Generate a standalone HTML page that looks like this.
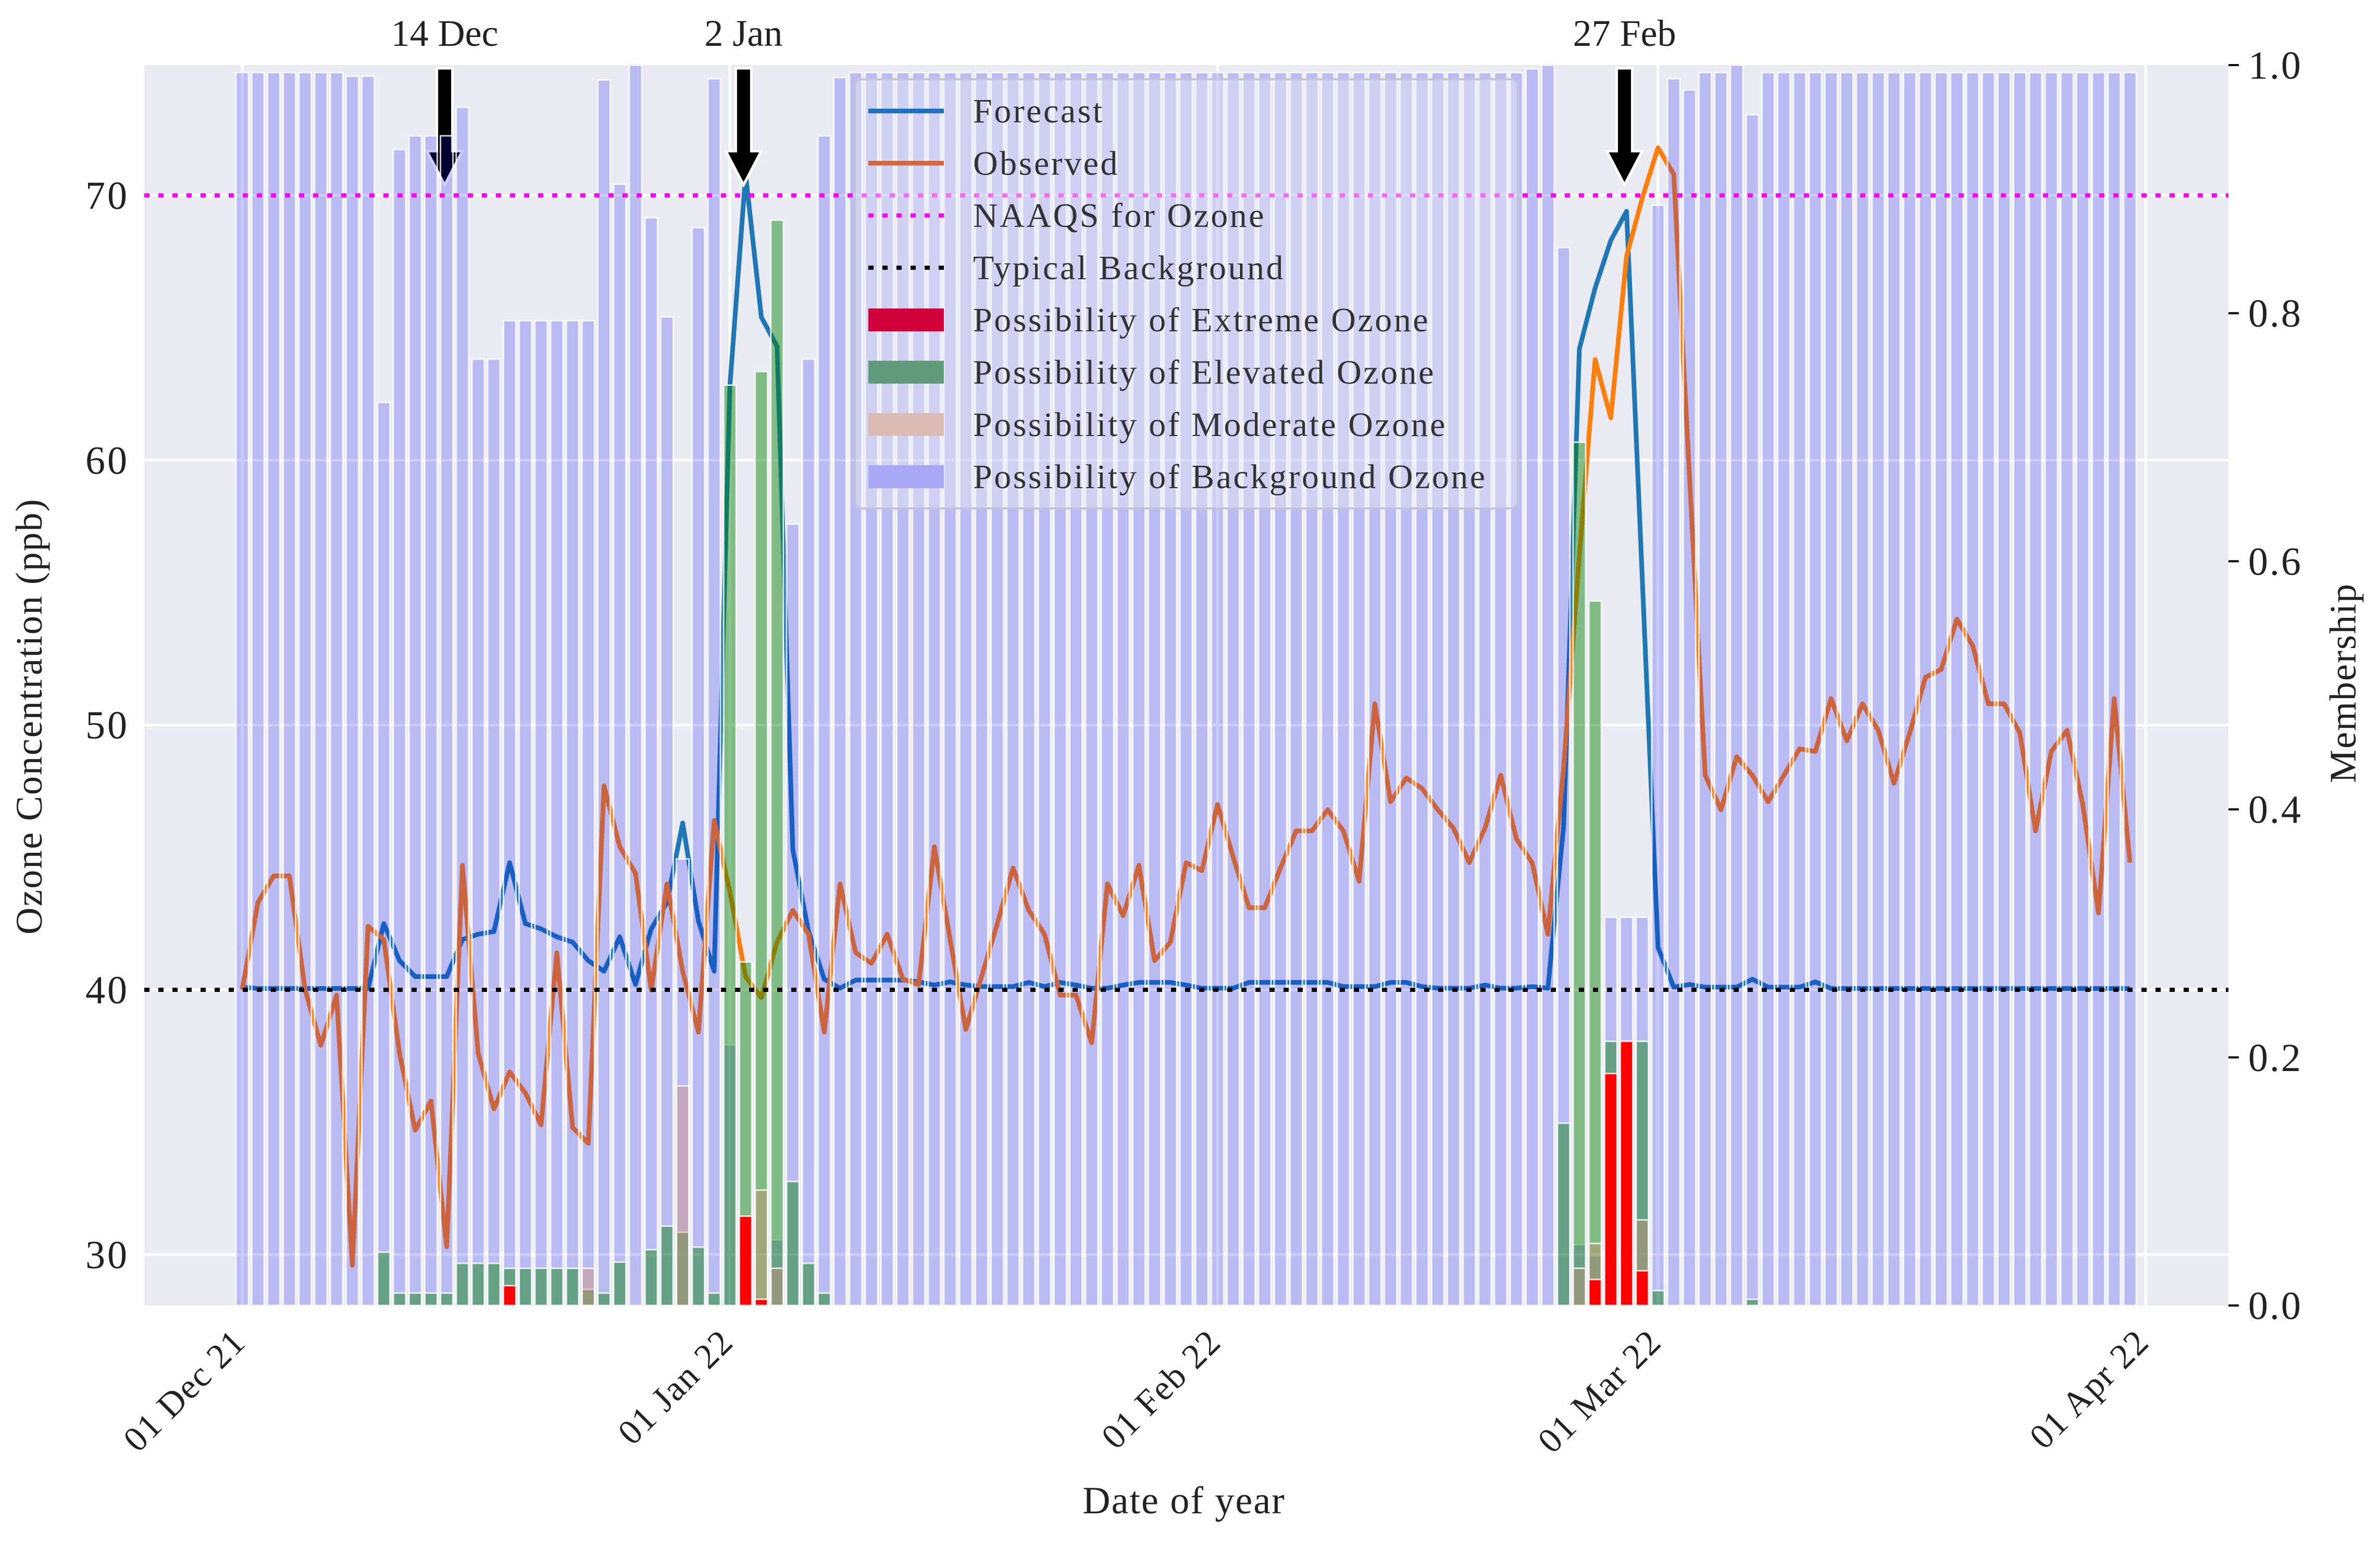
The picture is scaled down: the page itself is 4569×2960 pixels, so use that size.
<!DOCTYPE html>
<html><head><meta charset="utf-8"><style>
html,body{margin:0;padding:0;background:#fff;}
svg text{font-family:"Liberation Serif","DejaVu Serif",serif;}
</style></head><body>
<svg id="chart" xmlns="http://www.w3.org/2000/svg" width="4569" height="2955" viewBox="0 0 4569 2955">
<rect x="277" y="125" width="4001" height="2381" fill="#eaeaf2"/>
<g id="grid"></g>
<g id="lines"></g>
<g id="arrows"></g>
<g id="bars"></g>
<g id="refs"></g>
<g id="axes"></g>
<g id="legend"></g>
</svg>
<script>
const dateTickLabels = ["01 Dec 21","01 Jan 22","01 Feb 22","01 Mar 22","01 Apr 22"];
const dateTickDays = [0,31,62,90,121];
const ppbTicks = [30,40,50,60,70];
const memTicks = [0,0.2,0.4,0.6,0.8,1.0];
const observed = [40.0,43.3,44.3,44.3,40.0,37.9,39.8,29.6,42.4,41.9,37.6,34.7,35.8,30.3,44.7,37.6,35.5,36.9,36.1,34.9,41.4,34.8,34.2,47.7,45.4,44.4,40.0,44.0,40.7,38.4,46.4,43.7,40.5,39.7,41.8,43.0,42.1,38.4,44.0,41.4,41.0,42.1,40.4,40.2,45.4,41.9,38.5,40.5,42.5,44.6,43.0,42.1,39.8,39.8,38.0,44.0,42.8,44.7,41.1,41.8,44.8,44.5,47.0,45.0,43.1,43.1,44.6,46.0,46.0,46.8,46.0,44.1,50.8,47.1,48.0,47.6,46.8,46.1,44.8,46.1,48.1,45.7,44.8,42.1,48.4,56.4,63.8,61.6,67.7,69.9,71.8,70.8,59.4,48.1,46.8,48.8,48.1,47.1,48.1,49.1,49.0,51.0,49.4,50.8,49.8,47.8,49.7,51.8,52.1,54.0,53.0,50.8,50.8,49.7,46.0,49.0,49.8,47.0,42.9,51.0,44.8];
const forecast = [40.1,40.05,40.05,40.05,40.05,40.05,40.05,40.05,40.05,42.5,41.1,40.5,40.5,40.5,41.9,42.1,42.2,44.8,42.5,42.3,42.0,41.8,41.1,40.7,42.0,40.2,42.3,43.3,46.3,42.6,40.7,62.8,70.8,65.4,64.3,45.3,42.2,40.4,40.06,40.37,40.37,40.37,40.37,40.3,40.18,40.3,40.18,40.12,40.12,40.12,40.28,40.12,40.28,40.18,40.06,40.06,40.18,40.28,40.28,40.28,40.18,40.06,40.06,40.06,40.28,40.28,40.28,40.28,40.28,40.28,40.12,40.12,40.12,40.28,40.28,40.12,40.06,40.06,40.06,40.18,40.06,40.06,40.12,40.06,46.2,64.2,66.5,68.3,69.4,55.5,41.6,40.1,40.2,40.1,40.1,40.1,40.4,40.1,40.1,40.1,40.3,40.05,40.05,40.05,40.05,40.05,40.05,40.05,40.05,40.05,40.05,40.05,40.05,40.05,40.05,40.05,40.05,40.05,40.05,40.05,40.05];
const background = [0.994,0.994,0.994,0.994,0.994,0.994,0.994,0.991,0.991,0.728,0.932,0.943,0.943,0.943,0.966,0.763,0.763,0.794,0.794,0.794,0.794,0.794,0.794,0.988,0.904,1.0,0.877,0.797,0.36,0.869,0.989,0.21,0.03,0.0,0.053,0.63,0.763,0.943,0.99,0.994,0.994,0.994,0.994,0.994,0.994,0.994,0.994,0.994,0.994,0.994,0.994,0.994,0.994,0.994,0.994,0.994,0.994,0.994,0.994,0.994,0.994,0.994,0.994,0.994,0.994,0.994,0.994,0.994,0.994,0.994,0.994,0.994,0.994,0.994,0.994,0.994,0.994,0.994,0.994,0.994,0.994,0.994,0.997,1.0,0.853,0.049,0.04,0.313,0.313,0.313,0.887,0.989,0.98,0.994,0.994,1.0,0.96,0.994,0.994,0.994,0.994,0.994,0.994,0.994,0.994,0.994,0.994,0.994,0.994,0.994,0.994,0.994,0.994,0.994,0.994,0.994,0.994,0.994,0.994,0.994,0.994];
const elevated = [0,0,0,0,0,0,0,0,0,0.043,0.01,0.01,0.01,0.01,0.034,0.034,0.034,0.03,0.03,0.03,0.03,0.03,0.013,0.01,0.035,0,0.045,0.064,0.059,0.047,0.01,0.742,0.277,0.753,0.875,0.10,0.034,0.01,0,0,0,0,0,0,0,0,0,0,0,0,0,0,0,0,0,0,0,0,0,0,0,0,0,0,0,0,0,0,0,0,0,0,0,0,0,0,0,0,0,0,0,0,0,0,0.147,0.696,0.568,0.213,0.213,0.213,0.012,0,0,0,0,0,0.005,0,0,0,0,0,0,0,0,0,0,0,0,0,0,0,0,0,0,0,0,0,0,0,0];
const moderate = [0,0,0,0,0,0,0,0,0,0,0,0,0,0,0,0,0,0,0,0,0,0,0.03,0,0,0,0,0,0.177,0,0,0,0,0.093,0.03,0,0,0,0,0,0,0,0,0,0,0,0,0,0,0,0,0,0,0,0,0,0,0,0,0,0,0,0,0,0,0,0,0,0,0,0,0,0,0,0,0,0,0,0,0,0,0,0,0,0,0.03,0.05,0,0,0.069,0,0,0,0,0,0,0,0,0,0,0,0,0,0,0,0,0,0,0,0,0,0,0,0,0,0,0,0,0,0,0];
const extreme = [0,0,0,0,0,0,0,0,0,0,0,0,0,0,0,0,0,0.016,0,0,0,0,0,0,0,0,0,0,0,0,0,0,0.072,0.005,0,0,0,0,0,0,0,0,0,0,0,0,0,0,0,0,0,0,0,0,0,0,0,0,0,0,0,0,0,0,0,0,0,0,0,0,0,0,0,0,0,0,0,0,0,0,0,0,0,0,0,0,0.021,0.187,0.213,0.028,0,0,0,0,0,0,0,0,0,0,0,0,0,0,0,0,0,0,0,0,0,0,0,0,0,0,0,0,0,0,0];
const arrowLabels = ["14 Dec","2 Jan","27 Feb"];
const arrowDays = [13,32,88];
const naaqs = 70, typical = 40;

const NS="http://www.w3.org/2000/svg";
const L=277,R=4278,T=125,B=2506;
function xs(d){return 465+30.2*d;}
function yl(v){return 1900-(v-40)*50.83;}
function yr(m){return B-m*(B-T);}
function mk(tag,attrs,parent){const e=document.createElementNS(NS,tag);for(const k in attrs)e.setAttribute(k,attrs[k]);parent.appendChild(e);return e;}
const grid=document.getElementById('grid'),lines=document.getElementById('lines'),arrows=document.getElementById('arrows'),bars=document.getElementById('bars'),refs=document.getElementById('refs'),axes=document.getElementById('axes'),legend=document.getElementById('legend');

ppbTicks.forEach(v=>{const e=mk('line',{x1:L,x2:R,y1:yl(v),y2:yl(v),stroke:'#fff','stroke-width':5},grid);

});
dateTickDays.forEach(d=>{const e=mk('line',{x1:xs(d),x2:xs(d),y1:T,y2:B,stroke:'#fff','stroke-width':5},grid);

});

function poly(arr,color,name){const pts=arr.map((v,i)=>xs(i).toFixed(1)+','+yl(v).toFixed(1)).join(' ');
const e=mk('polyline',{points:pts,fill:'none',stroke:color,'stroke-width':9,'stroke-linejoin':'round'},lines);

}
poly(forecast,'#1f77b4','forecast-line');
poly(observed,'#ff7f0e','observed-line');

arrowDays.forEach((d,i)=>{const x=xs(d)-4;
const g=mk('g',{},arrows);


mk('polygon',{points:`${x-15},131 ${x+15},131 ${x+15},290 ${x+34},290 ${x},355 ${x-34},290 ${x-15},290`,fill:'#000',stroke:'#fff','stroke-width':5},g);
const t=mk('text',{x:x,y:88,'text-anchor':'middle','font-size':72,fill:'#222'},g);t.textContent=arrowLabels[i];

});

const bw=24;
function barSeries(arr,fill,op,name){arr.forEach((m,i)=>{if(m<=0)return;
const e=mk('rect',{x:xs(i)-bw/2,y:yr(m),width:bw,height:B-yr(m),fill:fill,'fill-opacity':op,stroke:'#fff','stroke-opacity':0.8,'stroke-width':3},bars);

});}
barSeries(background,'#0000ff',0.2,'background-bar');
barSeries(elevated,'#008000',0.45,'elevated-bar');
barSeries(moderate,'#d28c6e',0.4,'moderate-bar');
barSeries(extreme,'#ff0000',1,'extreme-bar');

let e;
e=mk('line',{x1:L,x2:R,y1:yl(naaqs),y2:yl(naaqs),stroke:'#ff00ff','stroke-width':8,'stroke-dasharray':'10 17'},refs);


e=mk('line',{x1:L,x2:R,y1:yl(typical),y2:yl(typical),stroke:'#000','stroke-width':8,'stroke-dasharray':'10 17'},refs);



ppbTicks.forEach(v=>{const t=mk('text',{x:248,y:yl(v)+26,'text-anchor':'end','font-size':76,'letter-spacing':4,fill:'#222'},axes);t.textContent=v;

});
memTicks.forEach(m=>{const l=mk('line',{x1:R,x2:R+20,y1:yr(m),y2:yr(m),stroke:'#000','stroke-width':4},axes);


const t=mk('text',{x:4316,y:yr(m)+26,'text-anchor':'start','font-size':76,'letter-spacing':3,fill:'#222'},axes);t.textContent=m.toFixed(1);

});
dateTickDays.forEach((d,i)=>{const x=xs(d)+10,y=2580;
const t=mk('text',{x:x,y:y,'text-anchor':'end','font-size':68,'letter-spacing':2,fill:'#222',transform:`rotate(-45 ${x} ${y})`},axes);t.textContent=dateTickLabels[i];

});
e=mk('text',{x:80,y:1375,'text-anchor':'middle','font-size':72,'letter-spacing':2,fill:'#222',transform:'rotate(-90 80 1375)'},axes);e.textContent='Ozone Concentration (ppb)';


e=mk('text',{x:4522,y:1311,'text-anchor':'middle','font-size':72,'letter-spacing':2,fill:'#222',transform:'rotate(-90 4522 1311)'},axes);e.textContent='Membership';


e=mk('text',{x:2273,y:2905,'text-anchor':'middle','font-size':74,'letter-spacing':2,fill:'#222'},axes);e.textContent='Date of year';



e=mk('rect',{x:1641,y:152,width:1273,height:824,rx:14,fill:'#eaeaf2','fill-opacity':0.45,stroke:'#c4c4d8','stroke-width':4},legend);


const legNames=['Forecast','Observed','NAAQS for Ozone','Typical Background','Possibility of Extreme Ozone','Possibility of Elevated Ozone','Possibility of Moderate Ozone','Possibility of Background Ozone'];
legNames.forEach((n,i)=>{const y=213+i*100.3;
const g=mk('g',{},legend);


if(i===0) mk('line',{x1:1667,x2:1812,y1:y,y2:y,stroke:'#1f6fbf','stroke-width':9},g);
if(i===1) mk('line',{x1:1667,x2:1812,y1:y,y2:y,stroke:'#d0683c','stroke-width':9},g);
if(i===2) mk('line',{x1:1667,x2:1812,y1:y,y2:y,stroke:'#ff00ff','stroke-width':8,'stroke-dasharray':'10 17'},g);
if(i===3) mk('line',{x1:1667,x2:1812,y1:y,y2:y,stroke:'#000','stroke-width':8,'stroke-dasharray':'10 17'},g);
if(i>=4){const f=['#d0003a','#5f9a7a','#dbbcb4','#a8a8f6'][i-4];mk('rect',{x:1667,y:y-22,width:145,height:44,fill:f},g);}
const t=mk('text',{x:1868,y:y+22,'font-size':66,'letter-spacing':3.5,fill:'#333'},g);t.textContent=n;});
</script>
</body></html>
